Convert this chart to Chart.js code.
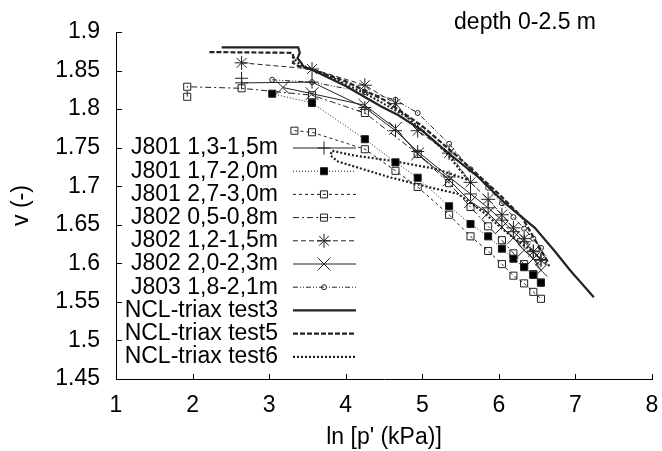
<!DOCTYPE html>
<html>
<head>
<meta charset="utf-8">
<script src="https://cdn.jsdelivr.net/npm/chart.js"></script>
<style>
  html, body { margin: 0; padding: 0; background: #fff; }
</style>
</head>
<body>
<canvas id="chart" width="662" height="451"></canvas>
<script>
// ln p' (kPa) and specific volume v

// J801 1,3-1,5m
var j801a_x = [2.64, 2.64, 3.56, 4.25, 4.65, 4.94, 5.35, 5.63, 5.86, 6.04, 6.19, 6.33, 6.45, 6.55];
var j801a_v = [1.840, 1.834, 1.835, 1.802, 1.772, 1.745, 1.712, 1.690, 1.672, 1.656, 1.641, 1.628, 1.616, 1.605];
// J801 1,7-2,0m
var j801b_x = [3.04, 3.56, 4.25, 4.65, 4.94, 5.35, 5.63, 5.86, 6.04, 6.19, 6.33, 6.45, 6.55];
var j801b_v = [1.820, 1.808, 1.761, 1.731, 1.711, 1.674, 1.651, 1.635, 1.619, 1.606, 1.595, 1.585, 1.575];
// J801 2,7-3,0m
var j801c_x = [3.33, 3.56, 4.25, 4.65, 4.94, 5.35, 5.63, 5.86, 6.04, 6.19, 6.33, 6.45, 6.55];
var j801c_v = [1.772, 1.770, 1.748, 1.720, 1.699, 1.663, 1.635, 1.616, 1.599, 1.584, 1.574, 1.563, 1.554];
// J802 0,5-0,8m
var j802a_x = [1.93, 1.93, 2.64, 3.56, 4.25, 4.94, 5.35, 5.63, 5.86, 6.04, 6.19, 6.33, 6.45, 6.55];
var j802a_v = [1.816, 1.829, 1.827, 1.818, 1.795, 1.742, 1.704, 1.673, 1.648, 1.630, 1.613, 1.599, 1.586, 1.575];
// J802 1,2-1,5m
var j802b_x = [2.64, 3.56, 4.25, 4.65, 4.94, 5.35, 5.63, 5.86, 6.04, 6.19, 6.33, 6.45, 6.55];
var j802b_v = [1.860, 1.852, 1.831, 1.807, 1.772, 1.743, 1.705, 1.683, 1.663, 1.646, 1.632, 1.615, 1.604];
// J802 2,0-2,3m
var j802c_x = [3.18, 3.56, 4.25, 4.65, 4.94, 5.35, 5.63, 5.86, 6.04, 6.19, 6.33, 6.45, 6.55];
var j802c_v = [1.828, 1.820, 1.805, 1.775, 1.742, 1.708, 1.680, 1.665, 1.647, 1.633, 1.617, 1.606, 1.591];
// J803 1,8-2,1m
var j803_x = [3.04, 3.56, 4.25, 4.65, 4.94, 5.35, 5.63, 5.86, 6.04, 6.19, 6.33, 6.45, 6.55];
var j803_v = [1.838, 1.835, 1.822, 1.812, 1.795, 1.755, 1.722, 1.698, 1.678, 1.660, 1.645, 1.632, 1.620];
// NCL-triax test3
var ncl3_x = [2.38, 3.38, 3.40, 3.37, 3.42, 3.45, 3.56, 4.00, 4.47, 4.69, 5.00, 5.34, 5.73, 6.08, 6.47, 6.72, 6.93, 7.24];
var ncl3_v = [1.880, 1.880, 1.873, 1.866, 1.860, 1.855, 1.851, 1.830, 1.803, 1.792, 1.772, 1.743, 1.712, 1.678, 1.646, 1.617, 1.591, 1.556];
// NCL-triax test5
var ncl5_x = [2.22, 3.30, 3.33, 3.31, 3.38, 3.60, 4.00, 4.50, 5.00, 5.50, 6.00, 6.30, 6.65];
var ncl5_v = [1.874, 1.873, 1.865, 1.860, 1.856, 1.850, 1.836, 1.812, 1.778, 1.735, 1.690, 1.660, 1.600];
// NCL-triax test6 (with the unload / reload loop)
var ncl6_x = [3.30, 3.40, 3.80, 4.30, 4.80, 5.30, 5.60, 5.20, 4.60, 4.10, 3.82, 3.80, 3.90, 4.56, 5.08, 5.47, 5.80, 6.10, 6.40, 6.67];
var ncl6_v = [1.868, 1.858, 1.842, 1.818, 1.790, 1.745, 1.708, 1.722, 1.733, 1.740, 1.746, 1.740, 1.732, 1.712, 1.699, 1.690, 1.666, 1.640, 1.618, 1.596];

var xTicks = [1, 2, 3, 4, 5, 6, 7, 8];
var fam = "'Liberation Sans', Arial, Helvetica, sans-serif";
var fsize = 23;

function pts(xs, vs) {
  return xs.map(function (x, i) { return { x: x, y: vs[i] }; });
}

function series(label, xs, vs, dash, style, radius, fill, width) {
  return {
    label: label,
    data: pts(xs, vs),
    showLine: true,
    borderColor: '#222',
    borderWidth: width || 1,
    borderDash: dash,
    pointStyle: style || 'circle',
    pointRadius: radius || 0,
    pointHoverRadius: radius || 0,
    pointBorderColor: '#222',
    pointBorderWidth: 1,
    pointBackgroundColor: fill || 'rgba(0,0,0,0)'
  };
}

var datasets = [
  series('J801 1,3-1,5m', j801a_x, j801a_v, [], 'cross', 6.5),
  series('J801 1,7-2,0m', j801b_x, j801b_v, [1, 2], 'rect', 5, '#000'),
  series('J801 2,7-3,0m', j801c_x, j801c_v, [3, 3], 'rect', 5),
  series('J802 0,5-0,8m', j802a_x, j802a_v, [6, 3, 2, 3], 'rect', 5),
  series('J802 1,2-1,5m', j802b_x, j802b_v, [5, 3], 'star', 7),
  series('J802 2,0-2,3m', j802c_x, j802c_v, [], 'crossRot', 9),
  series('J803 1,8-2,1m', j803_x, j803_v, [5, 2, 1, 2, 1, 2], 'circle', 2.5),
  series('NCL-triax test3', ncl3_x, ncl3_v, [], null, 0, null, 2.2),
  series('NCL-triax test5', ncl5_x, ncl5_v, [5, 2], null, 0, null, 2.2),
  series('NCL-triax test6', ncl6_x, ncl6_v, [2, 2], null, 0, null, 2.2)
];

// gnuplot style ticks pointing into the plot
var inwardTicks = {
  id: 'inwardTicks',
  afterDraw: function (chart) {
    var ctx = chart.ctx, xs = chart.scales.x, ys = chart.scales.y;
    ctx.save();
    ctx.strokeStyle = '#000';
    ctx.lineWidth = 1;
    ctx.beginPath();
    xs.ticks.forEach(function (t) {
      var px = Math.round(xs.getPixelForValue(t.value)) + 0.5;
      ctx.moveTo(px, ys.bottom);
      ctx.lineTo(px, ys.bottom - 5);
    });
    ys.ticks.forEach(function (t) {
      var py = Math.round(ys.getPixelForValue(t.value)) + 0.5;
      ctx.moveTo(xs.left, py);
      ctx.lineTo(xs.left + 6, py);
    });
    ctx.stroke();
    ctx.restore();
  }
};

// key inside the plot: text right aligned, sample to the right
var keyBox = {
  id: 'keyBox',
  afterDraw: function (chart) {
    var ctx = chart.ctx;
    ctx.save();
    ctx.font = fsize + 'px ' + fam;
    ctx.fillStyle = '#000';
    ctx.textAlign = 'right';
    ctx.textBaseline = 'middle';
    ctx.fillText('depth 0-2.5 m', 596, 23);
    chart.data.datasets.forEach(function (ds, i) {
      var y = 148 + i * 23.2;
      ctx.fillStyle = '#000';
      ctx.fillText(ds.label, 278, y);
      ctx.save();
      ctx.strokeStyle = ds.borderColor;
      ctx.lineWidth = ds.borderWidth;
      ctx.setLineDash(ds.borderDash);
      ctx.beginPath();
      ctx.moveTo(293, y);
      ctx.lineTo(356, y);
      ctx.stroke();
      ctx.restore();
      if (ds.pointRadius > 0 && Chart.helpers && Chart.helpers.drawPoint) {
        ctx.save();
        ctx.setLineDash([]);
        ctx.strokeStyle = ds.pointBorderColor;
        ctx.fillStyle = ds.pointBackgroundColor;
        ctx.lineWidth = ds.pointBorderWidth;
        Chart.helpers.drawPoint(ctx, { pointStyle: ds.pointStyle, radius: ds.pointRadius, borderWidth: 1, rotation: 0 }, 324, y);
        ctx.restore();
      }
    });
    ctx.restore();
  }
};

new Chart(document.getElementById('chart'), {
  type: 'scatter',
  data: { datasets: datasets },
  options: {
    responsive: false,
    animation: false,
    layout: { padding: { left: 0, right: 7, top: 32, bottom: 0 } },
    plugins: { legend: { display: false }, tooltip: { enabled: false } },
    scales: {
      x: {
        type: 'linear',
        min: 1, max: 8,
        afterBuildTicks: function (s) { s.ticks = xTicks.map(function (v) { return { value: v }; }); },
        afterFit: function (s) { s.height = 72; s.paddingLeft = 0; s.paddingRight = 0; },
        grid: { display: false, drawTicks: false },
        border: { display: true, color: '#000', width: 1 },
        ticks: { color: '#000', font: { family: fam, size: fsize }, padding: 13, maxRotation: 0 },
        title: { display: true, text: "ln [p' (kPa)]", color: '#000', font: { family: fam, size: fsize }, padding: { top: 0, bottom: 0 } }
      },
      y: {
        type: 'linear',
        min: 1.45, max: 1.9,
        ticks: {
          stepSize: 0.05, color: '#000', font: { family: fam, size: fsize }, padding: 16,
          callback: function (v) { return String(Math.round(v * 100) / 100); }
        },
        afterFit: function (s) { s.width = 116; s.paddingTop = 0; s.paddingBottom = 0; },
        grid: { display: false, drawTicks: false },
        border: { display: true, color: '#000', width: 1 },
        title: { display: true, text: 'v (-)', color: '#000', font: { family: fam, size: fsize }, padding: { top: 8, bottom: 0 } }
      }
    }
  },
  plugins: [inwardTicks, keyBox]
});
</script>
</body>
</html>
